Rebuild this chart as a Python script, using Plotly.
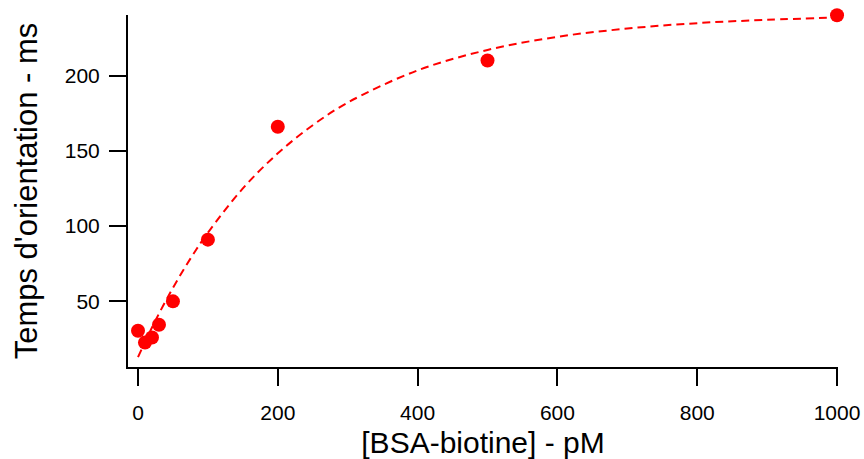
import plotly.graph_objects as go

# Measured orientation times versus BSA-biotin concentration
conc_pM = [0, 10, 20, 30, 50, 100, 200, 500, 1000]
time_ms = [30.5, 22.6, 26, 34.5, 50, 91, 166, 210, 240]

# Saturating fit curve, sampled along the concentration axis
fit_conc = [0, 25, 50, 75, 100, 150, 200, 250, 300, 400, 500, 600, 700, 800, 900, 1000]
fit_time = [13, 37.3, 59, 78.4, 95.6, 125, 148.3, 167, 182, 203.4, 217, 225.7, 231.2, 234.8, 237, 238.5]

x_ticks = [0, 200, 400, 600, 800, 1000]
y_ticks = [50, 100, 150, 200]

RED = "#ff0000"
FONT = "Liberation Sans, Arial, sans-serif"

fig = go.Figure()
fig.add_trace(go.Scatter(
    x=fit_conc, y=fit_time, mode="lines",
    line=dict(color=RED, width=2, dash="8px,5px", shape="spline"),
    hoverinfo="skip", showlegend=False, cliponaxis=False,
))
fig.add_trace(go.Scatter(
    x=conc_pM, y=time_ms, mode="markers",
    marker=dict(color=RED, size=14, line=dict(width=0)),
    showlegend=False, cliponaxis=False,
))

axis_common = dict(
    showgrid=False, zeroline=False, showline=True, linecolor="black", linewidth=2,
    ticks="outside", ticklen=17, tickwidth=2, tickcolor="black",
    tickfont=dict(family=FONT, size=21, color="black"),
    automargin=False,
)

fig.update_xaxes(
    range=[-14.3, 1001.4], tickvals=x_ticks, ticklabelstandoff=9,
    title=dict(text="[BSA-biotine] - pM", font=dict(family=FONT, size=30, color="black"), standoff=12),
    **axis_common,
)
fig.update_yaxes(
    range=[6.4, 240.2], tickvals=y_ticks, ticklabelstandoff=5,
    title=dict(text="Temps d'orientation - ms", font=dict(family=FONT, size=31, color="black"), standoff=18),
    **axis_common,
)

fig.update_layout(
    width=864, height=459,
    margin=dict(l=128, r=26, t=15, b=92),
    paper_bgcolor="white", plot_bgcolor="white",
)

fig.write_html("out.html")
